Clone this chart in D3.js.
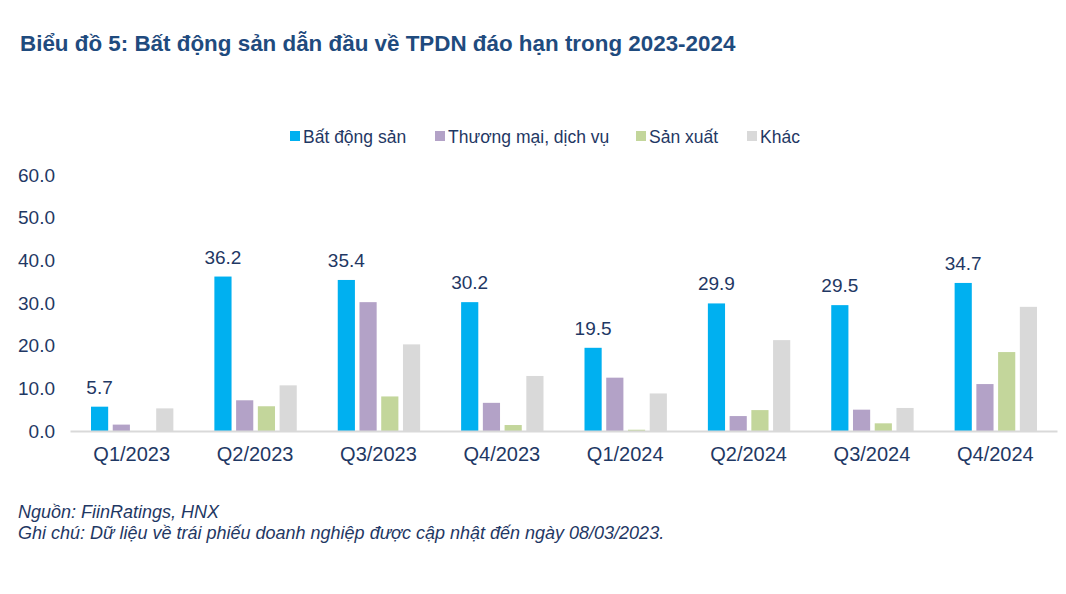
<!DOCTYPE html>
<html>
<head>
<meta charset="utf-8">
<script src="https://cdn.jsdelivr.net/npm/d3@7"></script>
<style>
  body { margin: 0; background: #fff; font-family: "Liberation Sans", Arial, sans-serif; }
</style>
</head>
<body>
<div id="graphic"></div>
<script>
const quarters = ["Q1/2023", "Q2/2023", "Q3/2023", "Q4/2023", "Q1/2024", "Q2/2024", "Q3/2024", "Q4/2024"]
const seriesNames = ["Bất động sản", "Thương mại, dịch vụ", "Sản xuất", "Khác"]
const batDongSan = [5.7, 36.2, 35.4, 30.2, 19.5, 29.9, 29.5, 34.7]
const thuongMai = [1.5, 7.2, 30.2, 6.6, 12.5, 3.5, 5.0, 11.0]
const sanXuat = [0, 5.8, 8.1, 1.4, 0.3, 4.9, 1.8, 18.5]
const khac = [5.3, 10.7, 20.3, 12.9, 8.8, 21.3, 5.4, 29.1]
const yTicks = [0, 10, 20, 30, 40, 50, 60]

const colors = ["#00B0F0", "#B3A2C7", "#C3D69B", "#D9D9D9"]
const textColor = "#1F3864"

const W = 1066, H = 594
const margin = { top: 175, right: 9, bottom: 163, left: 70 },
    width = W - margin.left - margin.right,
    height = H - margin.top - margin.bottom;

const data = quarters.map((q, i) => ({
    group: q,
    values: [batDongSan[i], thuongMai[i], sanXuat[i], khac[i]]
}))

const root = d3.select("#graphic")
    .append("svg")
    .attr("width", W)
    .attr("height", H)

// title
root.append("text")
    .attr("x", 20)
    .attr("y", 51)
    .attr("fill", "#1F4B7E")
    .style("font-size", "22.4px")
    .style("font-weight", "bold")
    .text("Biểu đồ 5: Bất động sản dẫn đầu về TPDN đáo hạn trong 2023-2024")

// legend
const legendX = [290, 435, 636, 747]
const legend = root.append("g")
seriesNames.forEach((name, i) => {
    legend.append("rect")
        .attr("x", legendX[i])
        .attr("y", 131)
        .attr("width", 10)
        .attr("height", 10)
        .attr("fill", colors[i])
    legend.append("text")
        .attr("x", legendX[i] + 13)
        .attr("y", 143)
        .attr("fill", textColor)
        .style("font-size", "17.5px")
        .text(name)
})

const svg = root.append("g")
    .attr("transform", `translate(${margin.left},${margin.top})`);

const x = d3.scaleBand()
    .domain(quarters)
    .range([0, width])
    .paddingInner(0)

const xSub = d3.scaleBand()
    .domain(d3.range(4))
    .range([21, x.bandwidth() - 20])
    .paddingInner(0.21)

const y = d3.scaleLinear()
    .domain([0, 60])
    .range([height, 0]);

// y axis labels (no line)
const yAxis = svg.append("g")
    .call(d3.axisLeft(y).tickValues(yTicks).tickFormat(d3.format(".1f")).tickSize(0).tickPadding(15))
yAxis.select(".domain").remove()
yAxis.selectAll("text")
    .attr("fill", textColor)
    .style("font-size", "19px")
    .style("font-family", "Liberation Sans, Arial, sans-serif")

// bars
const groups = svg.append("g")
    .selectAll("g")
    .data(data)
    .join("g")
    .attr("transform", d => `translate(${x(d.group)},0)`)

groups.selectAll("rect")
    .data(d => d.values.map((v, i) => ({ i: i, v: v })))
    .join("rect")
    .attr("x", d => xSub(d.i))
    .attr("y", d => y(d.v))
    .attr("width", xSub.bandwidth())
    .attr("height", d => y(0) - y(d.v))
    .attr("fill", d => colors[d.i])

// data labels on first series
groups.append("text")
    .attr("x", xSub(0) + xSub.bandwidth() / 2)
    .attr("y", d => y(d.values[0]) - 13)
    .attr("text-anchor", "middle")
    .attr("fill", textColor)
    .style("font-size", "19px")
    .text(d => d.values[0].toFixed(1))

// x axis
const xAxis = svg.append("g")
    .attr("transform", `translate(0, ${height})`)
    .call(d3.axisBottom(x).tickSize(0).tickPadding(16).tickSizeOuter(0))
xAxis.select(".domain")
    .attr("stroke", "#D9D9D9")
    .attr("stroke-width", 2)
xAxis.selectAll("text")
    .attr("fill", textColor)
    .style("font-size", "20px")
    .style("font-family", "Liberation Sans, Arial, sans-serif")

// notes
root.append("text")
    .attr("x", 18)
    .attr("y", 518)
    .attr("fill", textColor)
    .style("font-size", "18px")
    .style("font-style", "italic")
    .text("Nguồn: FiinRatings, HNX")
root.append("text")
    .attr("x", 18)
    .attr("y", 539)
    .attr("fill", textColor)
    .style("font-size", "18px")
    .style("font-style", "italic")
    .text("Ghi chú: Dữ liệu về trái phiếu doanh nghiệp được cập nhật đến ngày 08/03/2023.")
</script>
</body>
</html>
